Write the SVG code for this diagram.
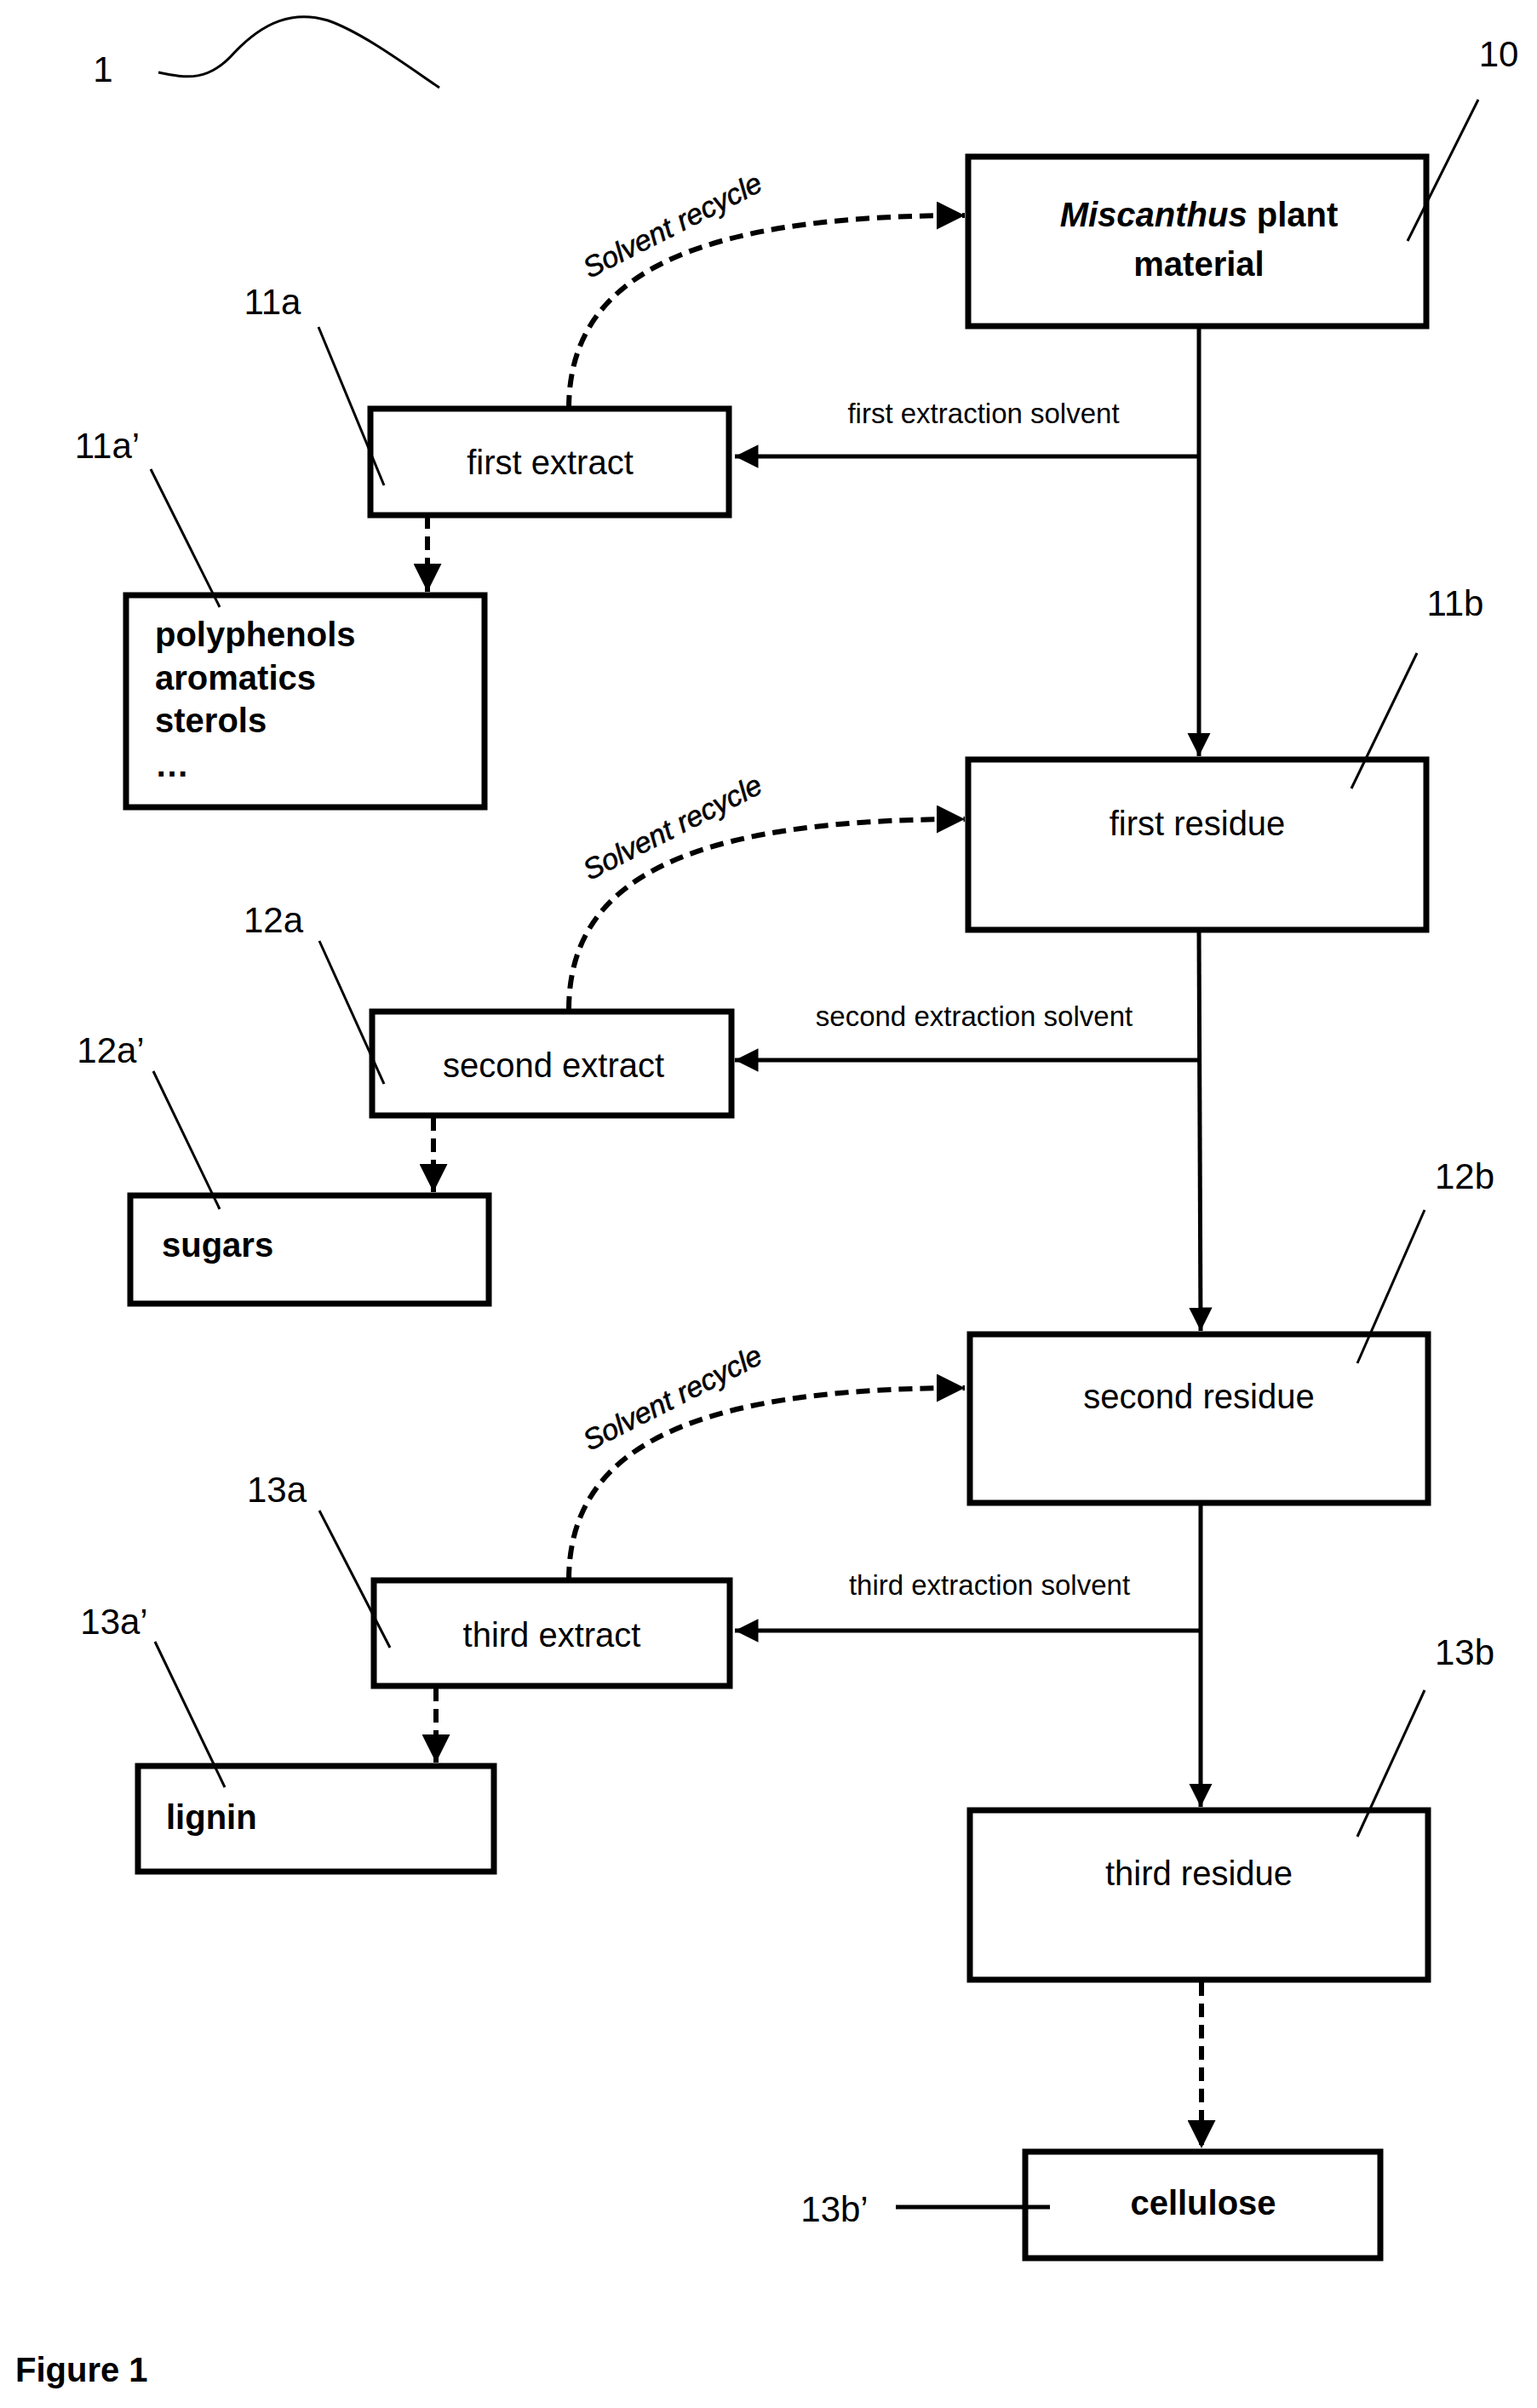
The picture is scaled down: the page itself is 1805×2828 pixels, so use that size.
<svg xmlns="http://www.w3.org/2000/svg" width="1805" height="2828" viewBox="0 0 1805 2828">
<style>
.box{fill:#fff;stroke:#000;stroke-width:7}
.t{font-family:"Liberation Sans",Arial,sans-serif;font-size:40px;text-anchor:middle}
.b{font-family:"Liberation Sans",Arial,sans-serif;font-size:40px;font-weight:bold}
.lab{font-family:"Liberation Sans",Arial,sans-serif;font-size:42px;text-anchor:middle}
.sl{font-family:"Liberation Sans",Arial,sans-serif;font-size:33px;text-anchor:middle}
.rc{font-family:"Liberation Sans",Arial,sans-serif;font-size:34px;font-style:italic;text-anchor:middle;stroke:#000;stroke-width:0.6}
.ld{stroke:#000;stroke-width:3;fill:none}
.sol{stroke:#000;stroke-width:5;fill:none}
.dsh{stroke:#000;stroke-width:6;fill:none;stroke-dasharray:16,9}
</style>
<defs>
<marker id="ah" viewBox="0 0 10 10" refX="10" refY="5" markerWidth="5.5" markerHeight="5.5" markerUnits="strokeWidth" orient="auto"><path d="M0,0L10,5L0,10z" fill="#000"/></marker>
</defs>
<text class="lab" x="121" y="96">1</text>
<path class="ld" d="M186,85 C220,92 245,96 275,62 C310,25 345,12 385,24 C425,38 475,75 516,103"/>
<g id="connectors">
<path class="sol" d="M1408,383 V888" marker-end="url(#ah)"/>
<path class="sol" d="M1408,536 H863" marker-end="url(#ah)"/>
<path class="sol" d="M1408,1092 L1410,1563" marker-end="url(#ah)"/>
<path class="sol" d="M1409,1245 H863" marker-end="url(#ah)"/>
<path class="sol" d="M1410,1765 V2122" marker-end="url(#ah)"/>
<path class="sol" d="M1408,1915 H863" marker-end="url(#ah)"/>
<path class="dsh" d="M668,480 C668,330 800,253 1133,253" marker-end="url(#ah)"/>
<path class="dsh" d="M668,1186 C668,1036 800,962 1133,962" marker-end="url(#ah)"/>
<path class="dsh" d="M668,1856 C668,1706 800,1630 1133,1630" marker-end="url(#ah)"/>
<path class="dsh" d="M502,605 V695" marker-end="url(#ah)"/>
<path class="dsh" d="M509,1312 V1400" marker-end="url(#ah)"/>
<path class="dsh" d="M512,1982 V2070" marker-end="url(#ah)"/>
<path class="dsh" d="M1411,2328 V2523" marker-end="url(#ah)"/>
<text class="sl" x="1155" y="497">first extraction solvent</text>
<text class="sl" x="1144" y="1205">second extraction solvent</text>
<text class="sl" x="1162" y="1873">third extraction solvent</text>
<text class="rc" transform="translate(795,275) rotate(-27)">Solvent recycle</text>
<text class="rc" transform="translate(795,982) rotate(-27)">Solvent recycle</text>
<text class="rc" transform="translate(795,1652) rotate(-27)">Solvent recycle</text>
</g>
<g id="n10"><rect class="box" x="1137" y="184" width="538" height="199"/>
<text class="b" x="1408" y="266" text-anchor="middle"><tspan font-style="italic">Miscanthus</tspan> plant</text>
<text class="b" x="1408" y="324" text-anchor="middle">material</text>
<text class="lab" x="1760" y="78">10</text><path class="ld" d="M1736,117 L1653,283"/></g>
<g id="n11a"><rect class="box" x="435" y="480" width="421" height="125"/>
<text class="t" x="646" y="557">first extract</text>
<text class="lab" x="320" y="369">11a</text><path class="ld" d="M374,384 L451,570"/></g>
<g id="n11a2"><rect class="box" x="148" y="699" width="421" height="249"/>
<text class="b" x="182" y="759">polyphenols</text><text class="b" x="182" y="810">aromatics</text><text class="b" x="182" y="860">sterols</text><text class="b" x="182" y="912">…</text>
<text class="lab" x="126" y="538">11a’</text><path class="ld" d="M177,551 L258,713"/></g>
<g id="n11b"><rect class="box" x="1137" y="892" width="538" height="200"/>
<text class="t" x="1406" y="981">first residue</text>
<text class="lab" x="1709" y="723">11b</text><path class="ld" d="M1664,767 L1587,926"/></g>
<g id="n12a"><rect class="box" x="437" y="1188" width="422" height="122"/>
<text class="t" x="650" y="1265">second extract</text>
<text class="lab" x="321" y="1095">12a</text><path class="ld" d="M375,1105 L451,1273"/></g>
<g id="n12a2"><rect class="box" x="153" y="1404" width="421" height="127"/>
<text class="b" x="190" y="1476">sugars</text>
<text class="lab" x="130" y="1248">12a’</text><path class="ld" d="M180,1258 L258,1420"/></g>
<g id="n12b"><rect class="box" x="1139" y="1567" width="538" height="198"/>
<text class="t" x="1408" y="1654">second residue</text>
<text class="lab" x="1720" y="1396">12b</text><path class="ld" d="M1673,1421 L1594,1601"/></g>
<g id="n13a"><rect class="box" x="439" y="1856" width="418" height="124"/>
<text class="t" x="648" y="1934">third extract</text>
<text class="lab" x="325" y="1764">13a</text><path class="ld" d="M375,1774 L458,1935"/></g>
<g id="n13a2"><rect class="box" x="162" y="2074" width="418" height="124"/>
<text class="b" x="195" y="2148">lignin</text>
<text class="lab" x="134" y="1919">13a’</text><path class="ld" d="M182,1928 L264,2099"/></g>
<g id="n13b"><rect class="box" x="1139" y="2126" width="538" height="199"/>
<text class="t" x="1408" y="2214">third residue</text>
<text class="lab" x="1720" y="1955">13b</text><path class="ld" d="M1673,1985 L1594,2157"/></g>
<g id="n13b2"><rect class="box" x="1204" y="2527" width="417" height="125"/>
<text class="b" x="1413" y="2601" text-anchor="middle">cellulose</text>
<text class="lab" x="980" y="2609">13b’</text><path class="sol" d="M1052,2592 L1233,2592"/></g>
<text class="b" x="18" y="2797">Figure 1</text>
</svg>
